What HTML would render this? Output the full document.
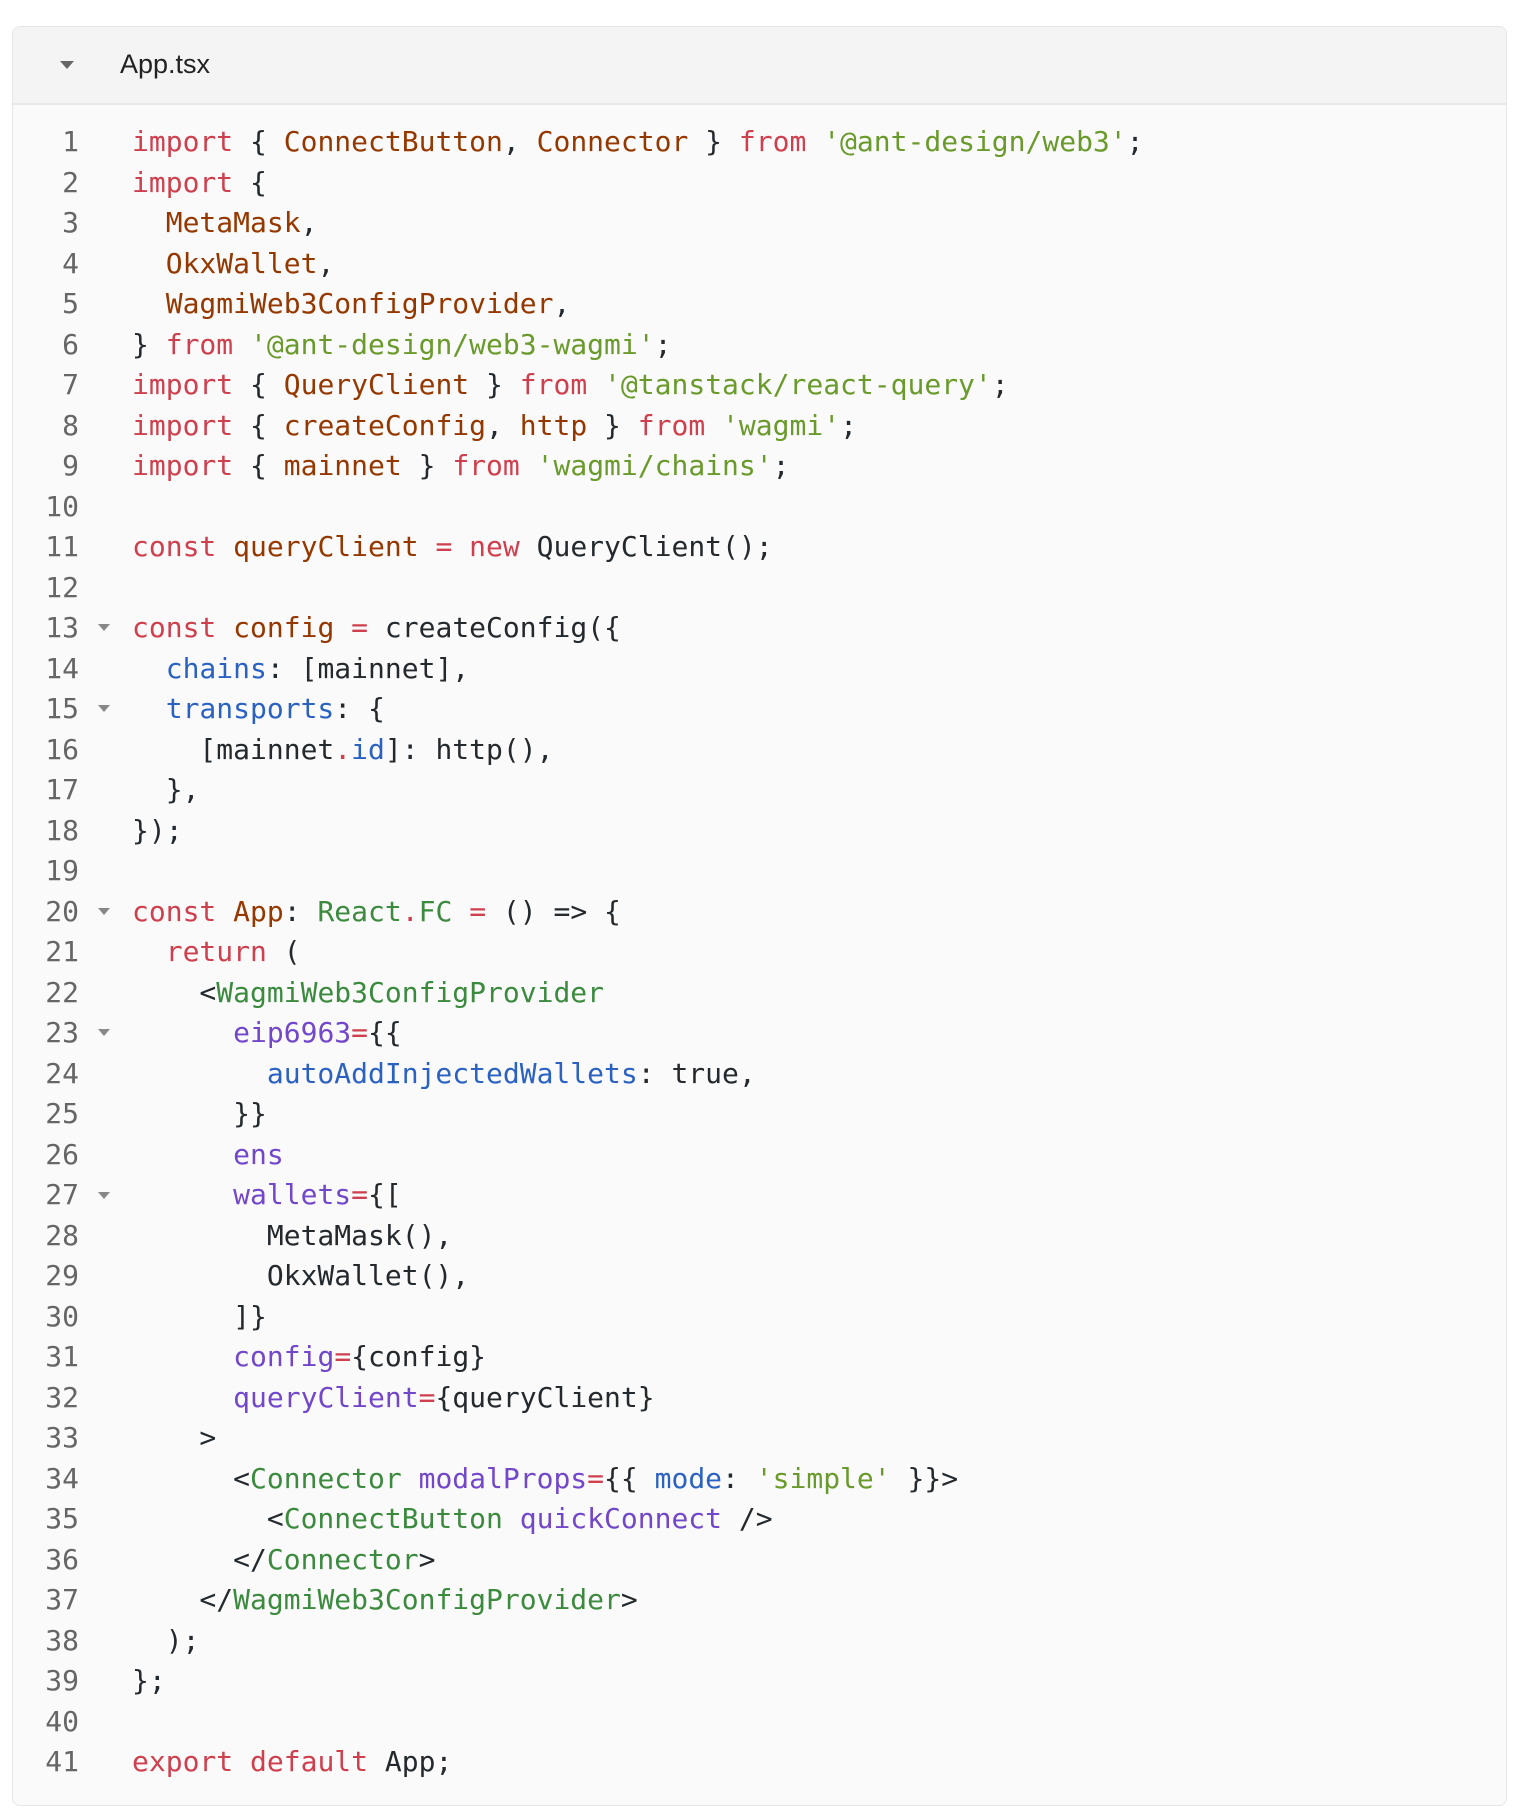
<!DOCTYPE html>
<html><head><meta charset="utf-8"><style>
body{margin:0;width:1518px;height:1811px;background:#fff;position:relative;font-family:"DejaVu Sans Mono","Liberation Mono",monospace;}
.box{position:absolute;left:12px;top:26px;width:1493px;height:1778px;border:1px solid #e6e6e6;border-radius:8px;background:#fafafa;overflow:hidden;}
.hd{position:absolute;left:0;top:0;right:0;height:76px;background:#f4f4f4;border-bottom:2px solid #e8e8e8;}
.hd .t{position:absolute;left:107px;top:22px;font:27px "Liberation Sans",sans-serif;color:#222;}
.tri{position:absolute;width:0;height:0;border-left:7px solid transparent;border-right:7px solid transparent;border-top:8px solid #666;}
.f{border-top-color:#888;border-left-width:6px;border-right-width:6px;border-top-width:7px;left:85px;}
pre{position:absolute;left:-2px;top:95px;margin:0;font-size:28px;line-height:40.5px;color:#24292e;font-family:inherit;}
.ln{display:inline-block;width:68px;text-align:right;color:#666;margin-right:53px;}
.k{color:#cf404e}.b{color:#953800}.s{color:#6a9a2b}.p{color:#2b62c2}.a{color:#7347c9}.g{color:#3b8a3e}
</style></head><body>
<div class="box">
<div class="hd"><div class="tri" style="left:47px;top:34px"></div><div class="t">App.tsx</div></div>
<div class="tri f" style="top:597px"></div>
<div class="tri f" style="top:678px"></div>
<div class="tri f" style="top:881px"></div>
<div class="tri f" style="top:1002px"></div>
<div class="tri f" style="top:1165px"></div>
<pre><span class="ln">1</span><span class="k">import</span> { <span class="b">ConnectButton</span>, <span class="b">Connector</span> } <span class="k">from</span> <span class="s">'@ant-design/web3'</span>;
<span class="ln">2</span><span class="k">import</span> {
<span class="ln">3</span>  <span class="b">MetaMask</span>,
<span class="ln">4</span>  <span class="b">OkxWallet</span>,
<span class="ln">5</span>  <span class="b">WagmiWeb3ConfigProvider</span>,
<span class="ln">6</span>} <span class="k">from</span> <span class="s">'@ant-design/web3-wagmi'</span>;
<span class="ln">7</span><span class="k">import</span> { <span class="b">QueryClient</span> } <span class="k">from</span> <span class="s">'@tanstack/react-query'</span>;
<span class="ln">8</span><span class="k">import</span> { <span class="b">createConfig</span>, <span class="b">http</span> } <span class="k">from</span> <span class="s">'wagmi'</span>;
<span class="ln">9</span><span class="k">import</span> { <span class="b">mainnet</span> } <span class="k">from</span> <span class="s">'wagmi/chains'</span>;
<span class="ln">10</span>
<span class="ln">11</span><span class="k">const</span> <span class="b">queryClient</span> <span class="k">=</span> <span class="k">new</span> QueryClient();
<span class="ln">12</span>
<span class="ln">13</span><span class="k">const</span> <span class="b">config</span> <span class="k">=</span> createConfig({
<span class="ln">14</span>  <span class="p">chains</span>: [mainnet],
<span class="ln">15</span>  <span class="p">transports</span>: {
<span class="ln">16</span>    [mainnet<span class="k">.</span><span class="p">id</span>]: http(),
<span class="ln">17</span>  },
<span class="ln">18</span>});
<span class="ln">19</span>
<span class="ln">20</span><span class="k">const</span> <span class="b">App</span>: <span class="g">React</span><span class="k">.</span><span class="g">FC</span> <span class="k">=</span> () =&gt; {
<span class="ln">21</span>  <span class="k">return</span> (
<span class="ln">22</span>    &lt;<span class="g">WagmiWeb3ConfigProvider</span>
<span class="ln">23</span>      <span class="a">eip6963</span><span class="k">=</span>{{
<span class="ln">24</span>        <span class="p">autoAddInjectedWallets</span>: true,
<span class="ln">25</span>      }}
<span class="ln">26</span>      <span class="a">ens</span>
<span class="ln">27</span>      <span class="a">wallets</span><span class="k">=</span>{[
<span class="ln">28</span>        MetaMask(),
<span class="ln">29</span>        OkxWallet(),
<span class="ln">30</span>      ]}
<span class="ln">31</span>      <span class="a">config</span><span class="k">=</span>{config}
<span class="ln">32</span>      <span class="a">queryClient</span><span class="k">=</span>{queryClient}
<span class="ln">33</span>    &gt;
<span class="ln">34</span>      &lt;<span class="g">Connector</span> <span class="a">modalProps</span><span class="k">=</span>{{ <span class="p">mode</span>: <span class="s">'simple'</span> }}&gt;
<span class="ln">35</span>        &lt;<span class="g">ConnectButton</span> <span class="a">quickConnect</span> /&gt;
<span class="ln">36</span>      &lt;/<span class="g">Connector</span>&gt;
<span class="ln">37</span>    &lt;/<span class="g">WagmiWeb3ConfigProvider</span>&gt;
<span class="ln">38</span>  );
<span class="ln">39</span>};
<span class="ln">40</span>
<span class="ln">41</span><span class="k">export</span> <span class="k">default</span> App;</pre>
</div>
</body></html>
